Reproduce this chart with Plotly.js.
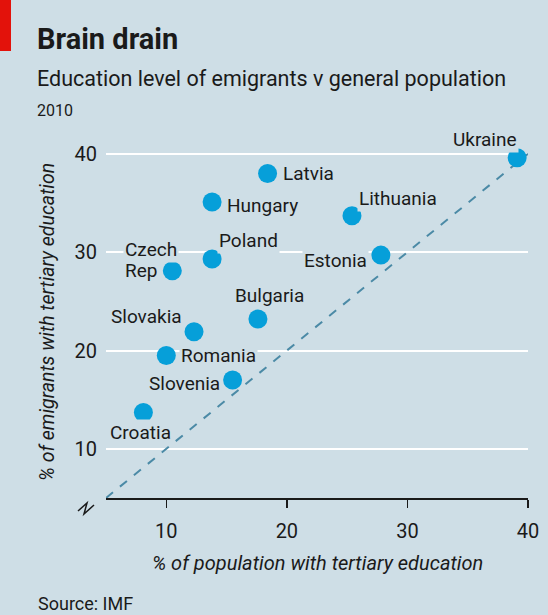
<!DOCTYPE html>
<html>
<head>
<meta charset="utf-8">
<script src="https://cdn.plot.ly/plotly-3.0.1.min.js"></script>
<style>html,body{margin:0;padding:0;background:#cedee6;}#chart{width:548px;height:615px;}</style>
</head>
<body>
<div id="chart"></div>
<script>
// ---- data ----
var countries = ["Ukraine","Latvia","Hungary","Lithuania","Poland","Estonia","Bulgaria","Slovakia","Romania","Slovenia","Croatia","Czech<br>Rep"];
var populationTertiary = [39.1, 18.4, 13.8, 25.4, 13.8, 27.8, 17.6, 12.3, 10.0, 15.5, 8.1, 10.5];
var emigrantTertiary   = [39.6, 38.0, 35.1, 33.7, 29.3, 29.7, 23.2, 21.9, 19.5, 17.0, 13.7, 28.1];
var xTicks = [10, 20, 30, 40];
var yTicks = [10, 20, 30, 40];
var parityLine = [5, 40];

// ---- label placement (styling, not data) ----
var labelPos = {
  "Ukraine":   {xa:"center", xs:-32, ys:18},
  "Latvia":    {xa:"left",   xs:13,  ys:0},
  "Hungary":   {xa:"left",   xs:13,  ys:-3},
  "Lithuania": {xa:"left",   xs:5,   ys:17},
  "Poland":    {xa:"left",   xs:5,   ys:19},
  "Estonia":   {xa:"right",  xs:-12, ys:-5},
  "Bulgaria":  {xa:"center", xs:12,  ys:24},
  "Slovakia":  {xa:"right",  xs:-10, ys:15},
  "Romania":   {xa:"left",   xs:13,  ys:0},
  "Slovenia":  {xa:"right",  xs:-11, ys:-3},
  "Croatia":   {xa:"center", xs:-3,  ys:-20},
  "Czech<br>Rep": {xa:"left", xs:-49, ys:21}
};

var BG = "#cedee6";
var INK = "#1a1a1a";
var FONT = "Roboto, 'Noto Sans', sans-serif";
var W = 548, H = 615, L = 106, R = 20, T = 144, B = 117;
var pw = W - L - R, ph = H - T - B;
function px(x){ return (x - L) / pw; }
function py(y){ return (H - B - y) / ph; }

var traces = [
  {x: parityLine, y: parityLine, mode: "lines", type: "scatter",
   line: {color: "#4b8aa6", width: 2, dash: "dash"}, hoverinfo: "skip", cliponaxis: false},
  {x: populationTertiary, y: emigrantTertiary, text: countries, mode: "markers", type: "scatter",
   marker: {color: "#069fd9", size: 19}, cliponaxis: false}
];

var LINE_H = 21;
var annotations = [];
countries.forEach(function(c, i){
  var p = labelPos[c];
  var lines = c.split("<br>");
  lines.forEach(function(t, k){
    annotations.push({x: populationTertiary[i], y: emigrantTertiary[i], xref: "x", yref: "y",
      text: t, showarrow: false, xanchor: p.xa, yanchor: "middle", xshift: p.xs, yshift: p.ys - k * LINE_H,
      bgcolor: BG, borderpad: 1,
      font: {family: FONT, size: 19, color: INK}});
  });
});

annotations.push(
  {xref:"paper", yref:"paper", x: px(35), y: py(58), xanchor:"left", yanchor:"bottom", showarrow:false,
   text:"<b>Brain drain</b>", font:{family:FONT, size:29, color:INK}},
  {xref:"paper", yref:"paper", x: px(35), y: py(93), xanchor:"left", yanchor:"bottom", showarrow:false,
   text:"Education level of emigrants v general population", font:{family:FONT, size:21.5, color:INK}},
  {xref:"paper", yref:"paper", x: px(35), y: py(122), xanchor:"left", yanchor:"bottom", showarrow:false,
   text:"2010", font:{family:FONT, size:16, color:INK}},
  {xref:"paper", yref:"paper", x: px(317), y: py(563), xanchor:"center", yanchor:"middle", showarrow:false,
   text:"<i>% of population with tertiary education</i>", font:{family:FONT, size:20, color:INK}},
  {xref:"paper", yref:"paper", x: px(47), y: py(322), xanchor:"center", yanchor:"middle", showarrow:false,
   textangle:-90, text:"<i>% of emigrants with tertiary education</i>", font:{family:FONT, size:19.5, color:INK}},
  {xref:"paper", yref:"paper", x: px(36), y: py(603), xanchor:"left", yanchor:"middle", showarrow:false,
   text:"Source: IMF", font:{family:FONT, size:18, color:INK}}
);

var shapes = [
  {type:"rect", xref:"paper", yref:"paper", x0: px(0), x1: px(11), y0: py(0), y1: py(51),
   fillcolor:"#e3120b", line:{width:0}, layer:"above"},
  {type:"path", xref:"paper", yref:"paper",
   path: "M " + px(78) + " " + py(511) + " L " + px(87) + " " + py(503) + " L " + px(84) + " " + py(514) + " L " + px(94) + " " + py(505),
   line:{color:INK, width:1.5}}
];

var layout = {
  width: W, height: H,
  margin: {l: L, r: R, t: T, b: B, pad: 0},
  paper_bgcolor: BG, plot_bgcolor: BG,
  showlegend: false,
  xaxis: {range: [5, 40], tickvals: xTicks, ticktext: xTicks.map(String), showgrid: false, zeroline: false,
    showline: true, linecolor: INK, linewidth: 1.5, ticks: "outside", ticklen: 8, tickwidth: 1.5,
    tickcolor: INK, ticklabelstandoff: 6, tickfont: {family: FONT, size: 20, color: INK}, fixedrange: true},
  yaxis: {range: [5, 41], tickvals: yTicks, ticktext: yTicks.map(String), showgrid: true, gridcolor: "#ffffff",
    gridwidth: 2, zeroline: false, showline: false, ticks: "", ticklabelstandoff: 8,
    tickfont: {family: FONT, size: 20, color: INK}, fixedrange: true},
  annotations: annotations,
  shapes: shapes
};

Plotly.newPlot("chart", traces, layout, {displayModeBar: false, staticPlot: true});
</script>
</body>
</html>
